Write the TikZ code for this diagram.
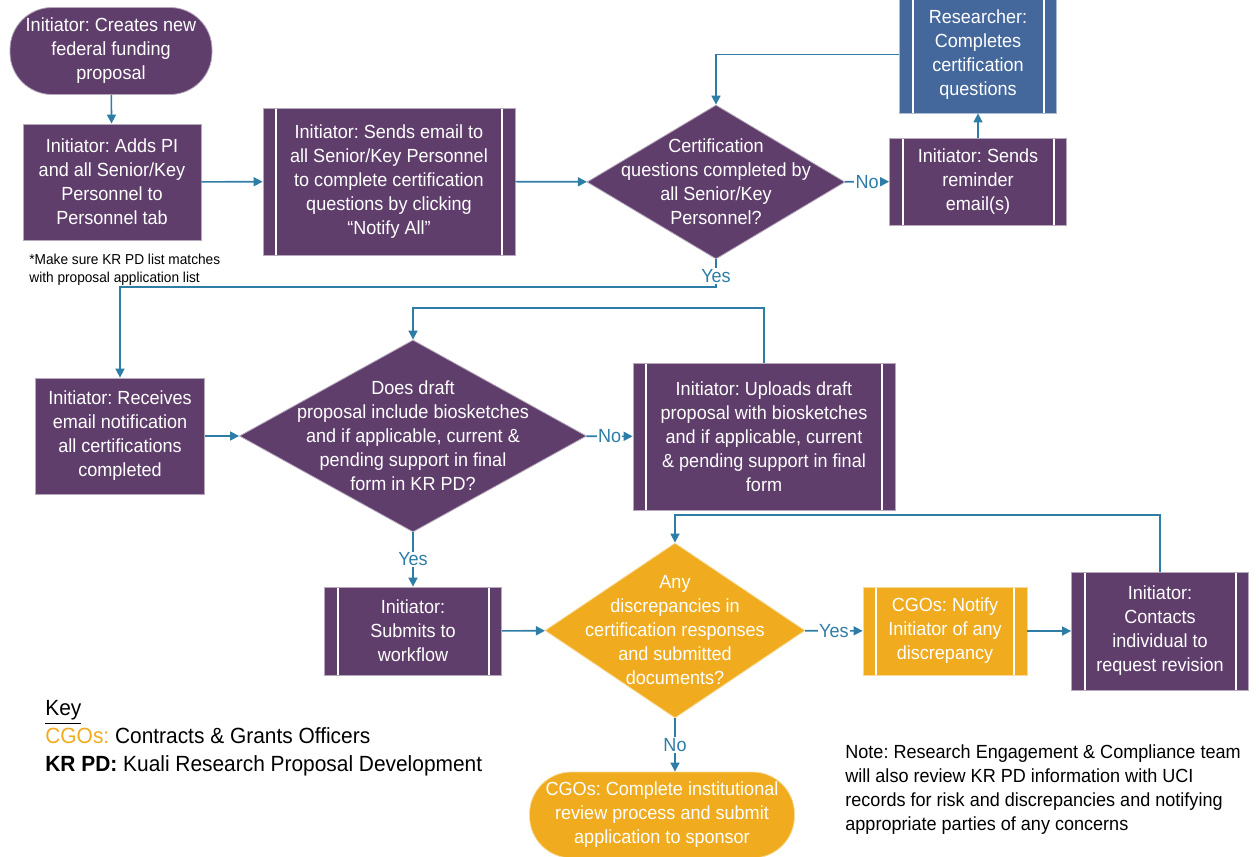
\documentclass[tikz,border=0pt]{standalone}
\usepackage{fontspec}
\setmainfont{Liberation Sans}[FakeStretch=0.95]
\usetikzlibrary{shapes.geometric,arrows.meta}

\definecolor{purp}{RGB}{96,62,108}
\definecolor{resblue}{RGB}{68,104,156}
\definecolor{cgoyellow}{RGB}{240,172,30}
\definecolor{flowblue}{RGB}{46,125,166}

\begin{document}
\frenchspacing
\begin{tikzpicture}[x=0.5pt,y=-0.5pt,>={Triangle[length=4.5pt,width=4.5pt]},
    every node/.style={font=\fontsize{9.5}{12}\selectfont},
    box/.style={fill=#1,draw=#1!45!white,line width=0.4pt,text=white,align=center,inner sep=0pt},
    box/.default=purp,
    proc node/.style={box=#1,rectangle},
    proc node/.default=purp,
    term node/.style={box=#1,rounded corners=21pt},
    term node/.default=purp,
    sub node/.style={box=#1,rectangle,path picture={
        \draw[white,line width=1pt]
          ([xshift=6.5pt]path picture bounding box.north west) -- ([xshift=6.5pt]path picture bounding box.south west)
          ([xshift=-6.5pt]path picture bounding box.north east) -- ([xshift=-6.5pt]path picture bounding box.south east);}},
    sub node/.default=purp,
    dec node/.style={box=#1,diamond},
    dec node/.default=purp,
    dec text/.style={text=white,align=center},
    flow/.style={->,draw=flowblue,line width=0.8pt},
    lbl/.style={fill=white,text=flowblue,inner sep=0.6pt}]
  \useasboundingbox (0,0) rectangle (1259,857);

  % top row
  \node[term node,minimum width=101pt,minimum height=43.5pt] (start) at (111,51)
    {Initiator: Creates new\\federal funding\\proposal};
  \node[proc node,minimum width=89pt,minimum height=58pt] (addpi) at (112,182)
    {Initiator: Adds PI\\and all Senior/Key\\Personnel to\\Personnel tab};
  \node[sub node,minimum width=126pt,minimum height=73.5pt] (notifyall) at (389,181.5)
    {Initiator: Sends email to\\all Senior/Key Personnel\\to complete certification\\questions by clicking\\“Notify All”};
  \node[dec node,minimum width=129pt,minimum height=77pt,
        label={[dec text]center:{Certification\\questions completed by\\all Senior/Key\\Personnel?}}] (certdone) at (716,182) {};
  \node[sub node,minimum width=88.5pt,minimum height=43.5pt] (reminder) at (978,181.5)
    {Initiator: Sends\\reminder\\email(s)};
  \node[sub node=resblue,minimum width=78.5pt,minimum height=58.5pt] (researcher) at (978,54.5)
    {Researcher:\\Completes\\certification\\questions};
  \node[anchor=north west,inner sep=0pt,align=left,font=\fontsize{7.2}{9}\selectfont] (pdnote) at (29,254)
    {*Make sure KR PD list matches\\with proposal application list};

  % middle row
  \node[proc node,minimum width=84.5pt,minimum height=58pt] (receives) at (120,436)
    {Initiator: Receives\\email notification\\all certifications\\completed};
  \node[dec node,minimum width=173.5pt,minimum height=96pt,
        label={[dec text]center:{Does draft\\proposal include biosketches\\and if applicable, current \&\\pending support in final\\form in KR PD?}}] (draftok) at (413,436) {};
  \node[sub node,minimum width=131pt,minimum height=73.5pt] (uploads) at (764,436.5)
    {Initiator: Uploads draft\\proposal with biosketches\\and if applicable, current\\\& pending support in final\\form};

  % bottom row
  \node[sub node,minimum width=88.5pt,minimum height=44pt] (submits) at (413,631)
    {Initiator:\\Submits to\\workflow};
  \node[dec node=cgoyellow,minimum width=130pt,minimum height=87.5pt,
        label={[dec text]center:{Any\\discrepancies in\\certification responses\\and submitted\\documents?}}] (discrep) at (675,630.5) {};
  \node[sub node=cgoyellow,minimum width=82pt,minimum height=44pt] (cgonotify) at (945,631)
    {CGOs: Notify\\Initiator of any\\discrepancy};
  \node[sub node,minimum width=88.5pt,minimum height=59pt] (contacts) at (1160,631)
    {Initiator:\\Contacts\\individual to\\request revision};
  \node[term node=cgoyellow,minimum width=132.5pt,minimum height=43pt] (review) at (662,815)
    {CGOs: Complete institutional\\review process and submit\\application to sponsor};

  % key and note
  \node[anchor=north west,inner sep=0pt,align=left,font=\fontsize{11}{14}\selectfont] (key) at (45,700)
    {\underline{Key}\\\textcolor{cgoyellow}{CGOs:} Contracts \& Grants Officers\\\textbf{KR PD:} Kuali Research Proposal Development};
  \node[anchor=north west,inner sep=0pt,align=left] (recnote) at (845,744)
    {Note: Research Engagement \& Compliance team\\will also review KR PD information with UCI\\records for risk and discrepancies and notifying\\appropriate parties of any concerns};

  \coordinate (yesbend) at (716,287);
  \coordinate (uploadbend) at (764,308);
  \coordinate (revisebend) at (1160,515);

  % connectors
  \draw[flow] (start) -- (addpi);
  \draw[flow] (addpi) -- (notifyall);
  \draw[flow] (notifyall) -- (certdone);
  \draw[flow] (certdone) -- node[lbl] {No} (reminder);
  \draw[flow] (reminder) -- (researcher);
  \draw[flow] (researcher.west) -| (certdone.north);
  \draw[flow] (certdone.south) -- node[lbl,pos=0.6] {Yes} (yesbend) -| (receives.north);
  \draw[flow] (receives) -- (draftok);
  \draw[flow] (draftok) -- node[lbl] {No} (uploads);
  \draw[flow] (uploads.north) -- (uploadbend) -| (draftok.north);
  \draw[flow] (draftok) -- node[lbl] {Yes} (submits);
  \draw[flow] (submits) -- (discrep);
  \draw[flow] (discrep) -- node[lbl] {Yes} (cgonotify);
  \draw[flow] (cgonotify) -- (contacts);
  \draw[flow] (contacts.north) -- (revisebend) -| (discrep.north);
  \draw[flow] (discrep.south) -- node[lbl] {No} (discrep.south |- review.north);
\end{tikzpicture}
\end{document}
